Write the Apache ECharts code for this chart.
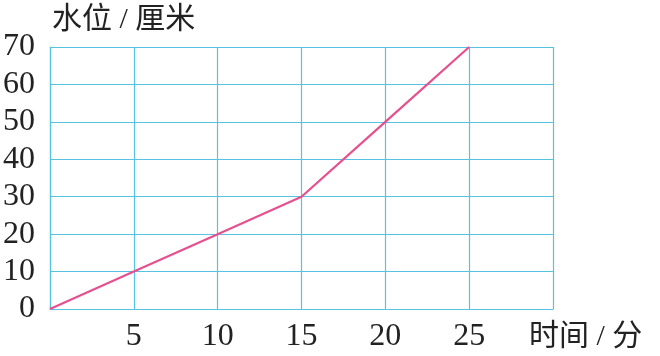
<!DOCTYPE html>
<html><head><meta charset="utf-8">
<script src="https://cdn.jsdelivr.net/npm/echarts@6/dist/echarts.min.js"></script>
<style>html,body{margin:0;padding:0;background:#fff}#c{width:660px;height:356px}</style>
</head><body><div id="c"></div>
<script>
const times = [0, 5, 10, 15, 20, 25];
const levels = [0, 10, 20, 30, 50, 70];
const xTickLabels = ['5', '10', '15', '20', '25'];
const yTickLabels = ['0', '10', '20', '30', '40', '50', '60', '70'];
const xName = '时间 / 分';
const yName = '水位 / 厘米';

const cyan = '#56c4e0';
const serif = '"Liberation Serif","Noto Sans CJK SC",serif';
const chart = echarts.init(document.getElementById('c'));
chart.setOption({
  animation: false,
  backgroundColor: '#fff',
  grid: {left: 50, right: 107, top: 47, bottom: 47, containLabel: false},
  xAxis: {
    type: 'value', min: 0, max: 30, interval: 5,
    name: xName, nameLocation: 'end', nameGap: -24,
    nameTextStyle: {fontFamily: serif, fontSize: 30, color: '#222', verticalAlign: 'top', align: 'left', padding: [13, 0, 0, 0]},
    axisLine: {show: true, lineStyle: {color: cyan, width: 1.2}},
    axisTick: {show: false},
    splitLine: {show: true, lineStyle: {color: cyan, width: 1.2}},
    axisLabel: {fontFamily: serif, fontSize: 32, color: '#222', margin: 12,
      formatter: v => xTickLabels.includes(String(v)) ? String(v) : ''}
  },
  yAxis: {
    type: 'value', min: 0, max: 70, interval: 10,
    name: yName, nameLocation: 'end', nameGap: 12,
    nameTextStyle: {fontFamily: serif, fontSize: 30, color: '#222', align: 'left', padding: [0, 0, 0, 2]},
    axisLine: {show: true, lineStyle: {color: cyan, width: 1.2}},
    axisTick: {show: false},
    splitLine: {show: true, lineStyle: {color: cyan, width: 1.2}},
    axisLabel: {fontFamily: serif, fontSize: 32, color: '#222', margin: 15,
      formatter: v => yTickLabels.includes(String(v)) ? String(v) : ''}
  },
  series: [{
    type: 'line',
    data: times.map((t, i) => [t, levels[i]]),
    symbol: 'none',
    lineStyle: {color: '#e5508f', width: 2.2},
    z: 5
  }]
});
</script></body></html>
